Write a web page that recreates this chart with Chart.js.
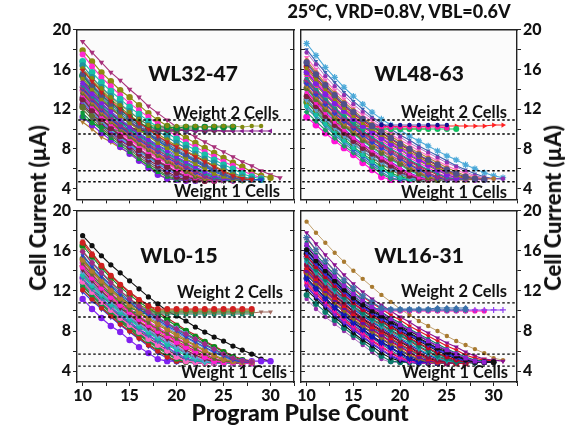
<!DOCTYPE html>
<html>
<head>
<meta charset="utf-8">
<script src="https://cdn.jsdelivr.net/npm/chart.js@4"></script>
<style>
html, body { margin: 0; padding: 0; background: #fff; }
#page { position: relative; width: 577px; height: 427px; overflow: hidden; font-family: Lato, sans-serif; font-weight: 900; color: #111; }
canvas { position: absolute; }
.txt { position: absolute; white-space: nowrap; transform: translate(-50%, -50%); line-height: 1; }
.weight { font-size: 16.5px; font-weight: 700; }
.panel { font-size: 21px; }
.axis { font-size: 23px; }
.vert { font-size: 22px; transform: translate(-50%, -50%) rotate(-90deg); }
</style>
</head>
<body>
<div id="page">
  <canvas id="wl3247" style="left:40px;top:18px" width="260" height="193"></canvas>
  <canvas id="wl4863" style="left:295px;top:18px" width="262" height="193"></canvas>
  <canvas id="wl015" style="left:40px;top:199px" width="260" height="210"></canvas>
  <canvas id="wl1631" style="left:295px;top:199px" width="262" height="210"></canvas>

  <div class="txt" style="left:399px;top:11px;font-size:18px">25°C, VRD=0.8V, VBL=0.6V</div>
  <div class="txt panel" style="left:193px;top:72px">WL32-47</div>
  <div class="txt panel" style="left:419px;top:72px">WL48-63</div>
  <div class="txt panel" style="left:179px;top:254px">WL0-15</div>
  <div class="txt panel" style="left:419px;top:254px">WL16-31</div>
  <div class="txt weight" style="left:226px;top:113px">Weight 2 Cells</div>
  <div class="txt weight" style="left:454px;top:112px">Weight 2 Cells</div>
  <div class="txt weight" style="left:230px;top:292px">Weight 2 Cells</div>
  <div class="txt weight" style="left:454px;top:291px">Weight 2 Cells</div>
  <div class="txt weight" style="left:227px;top:191px">Weight 1 Cells</div>
  <div class="txt weight" style="left:454px;top:192px">Weight 1 Cells</div>
  <div class="txt weight" style="left:234px;top:372px">Weight 1 Cells</div>
  <div class="txt weight" style="left:455px;top:372px">Weight 1 Cells</div>
  <div class="txt axis vert" style="left:38px;top:208px">Cell Current (µA)</div>
  <div class="txt axis vert" style="left:553px;top:208px">Cell Current (µA)</div>
  <div class="txt axis" style="left:300px;top:412px">Program Pulse Count</div>
</div>

<script>
// Pulse count of each point in a series
const pulseCounts = [10, 11, 12, 13, 14, 15, 16, 17, 18, 19, 20, 21, 22, 23, 24, 25, 26, 27, 28, 29, 30, 31];

const xTicks = [10, 12.5, 15, 17.5, 20, 22.5, 25, 27.5, 30, 32.5];
const xLabels = [10, 15, 20, 25, 30];
const yTicks = [4, 6, 8, 10, 12, 14, 16, 18, 20];
const yLabels = [4, 8, 12, 16, 20];

// Dotted limits of the two weight bands
const limitsTop = [10.9, 9.5, 5.8, 4.7];
const limitsBottom = [10.8, 9.4, 5.7, 4.5];

// Curves in the middle of each bundle, drawn first
const wl3247Middle = [
  [15.9, 14.8, 13.7, 12.8, 12, 11.3, 10.6, 10, 9.3, 8.7, 8.2, 7.7, 7.2, 6.7, 6.2, 5.7, 5.3, 5, 4.9],
  [15.5, 14.4, 13.4, 12.5, 11.7, 11, 10.3, 9.6, 9, 8.5, 7.9, 7.4, 6.9, 6.4, 5.9, 5.5, 5.1, 4.9, 4.9],
  [15.1, 14, 13, 12.2, 11.3, 10.6, 9.9, 9.3, 8.6, 8.1, 7.5, 7, 6.5, 6, 5.5, 5.2, 4.9, 4.9, 4.9],
  [14.6, 13.5, 12.6, 11.7, 10.9, 10.2, 9.5, 8.9, 8.3, 7.8, 7.2, 6.7, 6.2, 5.7, 5.3, 5, 4.9, 4.9],
  [14.4, 13.3, 12.3, 11.4, 10.7, 9.9, 9.3, 8.7, 8.1, 7.5, 7, 6.5, 6, 5.5, 5.1, 4.9, 4.8, 4.9],
  [14.2, 13.1, 12.1, 11.2, 10.4, 9.7, 9.1, 8.5, 7.9, 7.3, 6.8, 6.3, 5.8, 5.3, 5, 4.9, 4.8],
  [14, 12.9, 11.9, 11, 10.2, 9.5, 8.9, 8.3, 7.7, 7.1, 6.6, 6.1, 5.6, 5.2, 4.9, 4.9, 4.8],
  [13.8, 12.7, 11.7, 10.8, 10.1, 9.4, 8.7, 8.1, 7.5, 6.9, 6.4, 5.9, 5.4, 5, 4.9, 4.8],
  [13.6, 12.5, 11.5, 10.7, 9.9, 9.2, 8.5, 7.9, 7.3, 6.7, 6.2, 5.7, 5.2, 4.9, 4.9, 4.8],
  [13.4, 12.3, 11.3, 10.5, 9.7, 9, 8.3, 7.7, 7.1, 6.6, 6, 5.5, 5.1, 4.9, 4.8, 4.8],
  [13, 11.9, 11, 10.1, 9.3, 8.6, 7.9, 7.3, 6.7, 6.2, 5.6, 5.2, 4.9, 4.8, 4.8],
  [12.8, 11.8, 10.8, 9.9, 9.1, 8.4, 7.7, 7.1, 6.5, 6, 5.5, 5.1, 4.9, 4.8, 4.8]
];

const wl3247Currents = [
  [16.1, 15.1, 14.1, 13.2, 12.4, 11.7, 11, 10.4, 10.3, 10.3, 10.3, 10.3, 10.3, 10.2, 10.3, 10.3, 10.3, 10.2, 10.3, 10.3],
  [15.4, 14.3, 13.4, 12.6, 11.9, 11.2, 10.6, 10.2, 10.2, 10.2, 10.1, 10.2, 10.2, 10.2, 10.2, 10.2, 10.2],
  [14.8, 13.7, 12.8, 12, 11.3, 10.7, 10.1, 9.9, 9.9, 9.9, 9.9, 9.9, 9.8, 9.9, 9.9, 9.8, 9.8, 9.8, 9.8, 9.8, 9.8],
  [14.1, 13.1, 12.2, 11.5, 10.8, 10.2, 9.9, 9.8, 9.8, 9.8, 9.8, 9.9, 9.8, 9.8, 9.8, 9.8, 9.8],
  [13.2, 12.3, 11.5, 10.9, 10.3, 9.9, 9.8, 9.9, 9.8, 9.9, 9.9, 9.8, 9.9, 9.8, 9.9],
  [12.2, 11.4, 10.8, 10.3, 10, 9.9, 10, 10, 10, 10, 10, 10, 10],
  [11.2, 10.6, 10.2, 10, 9.8, 9.8, 9.8, 9.7, 9.8, 9.8, 9.8],
  [14.9, 13.9, 12.9, 12.1, 11.3, 10.6, 10, 9.4, 8.8, 8.2, 7.7, 7.2, 6.7, 6.2, 5.7, 5.3, 5, 4.9, 4.9, 4.9],
  [14.7, 13.6, 12.6, 11.8, 11, 10.3, 9.6, 9, 8.4, 7.9, 7.4, 6.9, 6.4, 5.9, 5.4, 5.1, 4.9, 4.9, 4.9],
  [14.5, 13.4, 12.5, 11.6, 10.8, 10.1, 9.4, 8.8, 8.2, 7.6, 7.1, 6.6, 6.1, 5.6, 5.2, 5, 4.9, 4.8],
  [14.3, 13.2, 12.2, 11.3, 10.5, 9.8, 9.2, 8.6, 8, 7.4, 6.9, 6.4, 5.9, 5.4, 5.1, 4.9, 4.9, 4.9, 4.9],
  [14.1, 13, 12, 11.1, 10.3, 9.6, 9, 8.4, 7.8, 7.3, 6.7, 6.2, 5.7, 5.3, 5, 4.9, 4.9, 4.8],
  [13.9, 12.8, 11.8, 10.9, 10.1, 9.4, 8.8, 8.2, 7.6, 7, 6.5, 6, 5.5, 5.1, 4.9, 4.9, 4.8],
  [13.7, 12.6, 11.6, 10.7, 10, 9.3, 8.6, 8, 7.4, 6.8, 6.3, 5.8, 5.3, 5, 4.9, 4.9, 4.9, 4.8],
  [13.5, 12.4, 11.4, 10.6, 9.8, 9.1, 8.4, 7.8, 7.2, 6.6, 6.1, 5.6, 5.2, 4.9, 4.9, 4.8, 4.8],
  [13.3, 12.2, 11.2, 10.4, 9.6, 8.9, 8.2, 7.6, 7, 6.5, 5.9, 5.4, 5.1, 4.9, 4.8, 4.9, 4.8],
  [13.1, 12, 11, 10.2, 9.4, 8.7, 8, 7.4, 6.8, 6.3, 5.7, 5.3, 5, 4.9, 4.8, 4.8],
  [12.9, 11.8, 10.9, 10, 9.2, 8.5, 7.8, 7.2, 6.6, 6.1, 5.6, 5.2, 4.9, 4.9, 4.8, 4.8, 4.8],
  [12.7, 11.7, 10.7, 9.8, 9, 8.3, 7.7, 7.1, 6.5, 5.9, 5.4, 5, 4.9, 4.8, 4.8, 4.8],
  [12.5, 11.5, 10.5, 9.7, 8.9, 8.2, 7.5, 6.9, 6.3, 5.7, 5.2, 4.9, 4.9, 4.8, 4.9],
  [12.3, 11.3, 10.3, 9.5, 8.7, 8, 7.4, 6.7, 6.1, 5.5, 5.1, 4.9, 4.8, 4.8, 4.8, 4.8],
  [12, 11, 10.1, 9.3, 8.6, 7.9, 7.2, 6.5, 5.9, 5.3, 5, 4.9, 4.8, 4.8],
  [11.6, 10.7, 9.9, 9.1, 8.4, 7.7, 7, 6.3, 5.7, 5.2, 4.9, 4.9, 4.8, 4.8],
  [11.2, 10.4, 9.6, 8.9, 8.2, 7.5, 6.8, 6.1, 5.4, 5, 4.9, 4.8, 4.8],
  [10.7, 10, 9.2, 8.7, 8.1, 7.6, 6.9, 6.3, 5.5, 5, 4.9, 4.9, 4.9, 4.8],
  [15.3, 14.2, 13.2, 12.3, 11.5, 10.8, 10.1, 9.5, 8.9, 8.3, 7.8, 7.3, 6.8, 6.3, 5.8, 5.4, 5.1, 4.9, 4.9, 4.9],
  [15.7, 14.5, 13.5, 12.7, 11.9, 11.1, 10.5, 9.8, 9.2, 8.6, 8.1, 7.5, 7, 6.5, 6, 5.6, 5.2, 5, 4.9, 4.9],
  [16, 14.9, 13.9, 13, 12.2, 11.4, 10.7, 10.1, 9.5, 8.9, 8.3, 7.8, 7.3, 6.8, 6.3, 5.8, 5.4, 5.1, 4.9, 4.9],
  [16.4, 15.2, 14.2, 13.3, 12.5, 11.8, 11, 10.4, 9.8, 9.2, 8.6, 8.1, 7.5, 7, 6.6, 6.1, 5.6, 5.2, 5],
  [16.8, 15.7, 14.7, 13.8, 13, 12.2, 11.5, 10.8, 10.2, 9.6, 9, 8.4, 7.9, 7.4, 6.9, 6.4, 6, 5.5, 5.2, 5],
  [17.5, 16.3, 15.2, 14.3, 13.4, 12.6, 11.9, 11.2, 10.5, 9.9, 9.3, 8.7, 8.2, 7.7, 7.2, 6.7, 6.3, 5.8, 5.4, 5.1],
  [17.9, 16.8, 15.7, 14.8, 13.9, 13.2, 12.4, 11.6, 10.9, 10.3, 9.7, 9.1, 8.6, 8.1, 7.6, 7.1, 6.6, 6.2, 5.7, 5.3, 5.1],
  [18.8, 17.7, 16.7, 15.7, 14.9, 14, 13.2, 12.3, 11.6, 10.9, 10.2, 9.7, 9.2, 8.7, 8.2, 7.7, 7.2, 6.7, 6.3, 5.8, 5.4, 5.1]
];

const wl4863Middle = [
  [16.7, 15.5, 14.4, 13.4, 12.5, 11.7, 11, 10.3, 9.7, 9.1, 8.5, 8, 7.4, 6.9, 6.4, 5.9, 5.5, 5.2, 5, 4.9],
  [16.1, 15, 14, 13, 12.1, 11.3, 10.6, 10, 9.4, 8.8, 8.2, 7.7, 7.2, 6.6, 6.1, 5.7, 5.3, 5, 4.9],
  [15.7, 14.6, 13.5, 12.6, 11.8, 11, 10.3, 9.7, 9.1, 8.5, 8, 7.4, 6.9, 6.4, 5.9, 5.4, 5.1, 5, 4.9],
  [15.1, 14, 13, 12.1, 11.3, 10.5, 9.8, 9.2, 8.6, 8, 7.5, 6.9, 6.4, 5.9, 5.5, 5.1, 5, 4.9],
  [14.9, 13.8, 12.8, 11.9, 11, 10.3, 9.6, 9, 8.4, 7.8, 7.2, 6.7, 6.2, 5.6, 5.2, 5, 4.9],
  [14.6, 13.5, 12.5, 11.6, 10.8, 10.1, 9.4, 8.7, 8.1, 7.6, 7, 6.4, 5.9, 5.4, 5.1, 4.9, 4.9],
  [14.3, 13.2, 12.2, 11.3, 10.5, 9.8, 9.1, 8.5, 7.9, 7.3, 6.8, 6.2, 5.7, 5.2, 5, 4.9],
  [14.1, 13, 12, 11.1, 10.3, 9.6, 8.9, 8.2, 7.6, 7, 6.5, 5.9, 5.5, 5.1, 4.9, 4.9],
  [13.7, 12.6, 11.6, 10.7, 9.9, 9.1, 8.4, 7.8, 7.1, 6.6, 6, 5.5, 5.1, 4.9, 4.9],
  [13.3, 12.3, 11.3, 10.4, 9.6, 8.8, 8.1, 7.5, 6.9, 6.3, 5.7, 5.3, 5, 4.9, 4.9],
  [12.9, 11.9, 11, 10.1, 9.3, 8.5, 7.8, 7.2, 6.6, 6, 5.5, 5.1, 4.9, 4.9],
  [12.3, 11.4, 10.5, 9.6, 8.8, 8.1, 7.4, 6.7, 6, 5.4, 5.1, 4.9, 4.9]
];

const wl4863Currents = [
  [16.5, 15.4, 14.3, 13.3, 12.4, 11.6, 10.9, 10.4, 10.4, 10.4, 10.4, 10.4, 10.4, 10.4, 10.4, 10.4],
  [15.7, 14.6, 13.6, 12.7, 11.9, 11.1, 10.5, 10.2, 10.2, 10.2, 10.2, 10.2, 10.2, 10.2, 10.2, 10.1],
  [14.8, 13.8, 12.9, 12, 11.2, 10.6, 10.1, 10, 10, 10, 10, 10, 10, 10, 10, 10, 10],
  [13.6, 12.8, 12, 11.3, 10.7, 10.3, 10.2, 10.3, 10.2, 10.3, 10.2, 10.3, 10.2, 10.3, 10.3, 10.3, 10.3, 10.3, 10.3, 10.3, 10.4, 10.4],
  [12.6, 11.9, 11.2, 10.7, 10.3, 10.1, 10, 10, 10, 10, 10, 10, 10, 10],
  [15.2, 14.1, 13.1, 12.2, 11.4, 10.7, 10, 9.4, 8.8, 8.2, 7.7, 7.1, 6.6, 6.1, 5.6, 5.2, 5, 5, 4.9],
  [15, 13.9, 12.9, 12, 11.2, 10.4, 9.7, 9.1, 8.5, 7.9, 7.4, 6.8, 6.3, 5.8, 5.4, 5.1, 5, 4.9],
  [14.7, 13.6, 12.6, 11.7, 10.9, 10.2, 9.5, 8.9, 8.3, 7.7, 7.1, 6.5, 6, 5.5, 5.2, 5, 4.9, 4.9, 4.9],
  [14.5, 13.4, 12.4, 11.5, 10.7, 10, 9.3, 8.6, 8, 7.4, 6.9, 6.3, 5.8, 5.3, 5, 4.9, 4.9, 4.9],
  [14.2, 13.1, 12.1, 11.2, 10.4, 9.7, 9, 8.4, 7.8, 7.2, 6.6, 6.1, 5.6, 5.2, 5, 4.9, 4.9, 4.9],
  [14, 12.9, 11.9, 11, 10.2, 9.5, 8.8, 8.1, 7.5, 6.9, 6.4, 5.8, 5.4, 5, 4.9, 4.9, 4.9, 4.9],
  [13.8, 12.7, 11.7, 10.8, 10, 9.2, 8.5, 7.9, 7.3, 6.7, 6.1, 5.6, 5.2, 5, 4.9, 4.9],
  [13.5, 12.4, 11.4, 10.5, 9.7, 9, 8.3, 7.6, 7, 6.4, 5.9, 5.4, 5.1, 4.9, 4.9, 4.9, 4.9],
  [13.2, 12.2, 11.2, 10.3, 9.5, 8.7, 8, 7.4, 6.8, 6.2, 5.6, 5.2, 5, 4.9, 4.9, 4.9],
  [13, 11.9, 10.9, 10, 9.2, 8.5, 7.8, 7.1, 6.5, 5.9, 5.4, 5.1, 4.9, 4.9, 4.9],
  [12.7, 11.7, 10.7, 9.8, 9, 8.2, 7.5, 6.9, 6.2, 5.6, 5.2, 5, 4.9, 4.9, 4.9],
  [12.4, 11.4, 10.5, 9.6, 8.8, 8, 7.3, 6.6, 5.9, 5.4, 5, 4.9, 4.9, 4.9],
  [12.1, 11.2, 10.3, 9.4, 8.6, 7.8, 7.1, 6.4, 5.7, 5.1, 4.9, 4.9, 4.9],
  [11.7, 10.8, 9.9, 9.1, 8.3, 7.6, 6.9, 6.2, 5.5, 5, 4.9, 4.9, 4.9],
  [11.2, 10.4, 9.6, 8.8, 8.1, 7.4, 6.6, 5.9, 5.2, 4.9, 4.9, 4.9, 4.9, 4.9],
  [15.5, 14.4, 13.4, 12.5, 11.7, 10.9, 10.2, 9.6, 9, 8.4, 7.9, 7.3, 6.8, 6.3, 5.8, 5.4, 5.1, 5, 4.9],
  [15.9, 14.8, 13.8, 12.8, 12, 11.2, 10.5, 9.9, 9.3, 8.7, 8.1, 7.6, 7, 6.5, 6, 5.6, 5.2, 5, 4.9, 4.9],
  [16.3, 15.2, 14.1, 13.2, 12.3, 11.5, 10.8, 10.2, 9.6, 9, 8.4, 7.9, 7.3, 6.8, 6.3, 5.8, 5.4, 5.1, 5, 4.9],
  [16.9, 15.7, 14.6, 13.6, 12.7, 11.9, 11.1, 10.5, 9.9, 9.3, 8.7, 8.1, 7.6, 7.1, 6.6, 6.1, 5.7, 5.3, 5.1, 5, 5],
  [17.2, 16, 14.9, 13.9, 13, 12.1, 11.4, 10.8, 10.1, 9.5, 8.9, 8.4, 7.8, 7.3, 6.8, 6.3, 5.9, 5.5, 5.2, 5, 5],
  [17.7, 16.5, 15.3, 14.3, 13.4, 12.5, 11.7, 11, 10.4, 9.8, 9.2, 8.6, 8.1, 7.6, 7.1, 6.6, 6.2, 5.7, 5.3, 5.1, 5, 5],
  [18, 16.8, 15.7, 14.7, 13.7, 12.8, 12, 11.2, 10.6, 10, 9.4, 8.9, 8.3, 7.8, 7.3, 6.8, 6.3, 5.9, 5.5, 5.2, 5, 5],
  [18.6, 17.4, 16.2, 15.2, 14.2, 13.3, 12.5, 11.7, 11, 10.4, 9.9, 9.3, 8.8, 8.3, 7.8, 7.3, 6.9, 6.4, 6, 5.6, 5.3, 5.1]
];

const wl015Middle = [
  [15.9, 14.8, 13.8, 12.8, 12, 11.2, 10.5, 9.9, 9.3, 8.8, 8.2, 7.7, 7.2, 6.7, 6.2, 5.7, 5.3, 5, 4.9],
  [15.5, 14.4, 13.4, 12.5, 11.6, 10.9, 10.2, 9.6, 9.1, 8.5, 8, 7.4, 6.9, 6.4, 5.9, 5.5, 5.1, 4.9, 4.9],
  [15.1, 14, 13, 12.1, 11.3, 10.6, 9.9, 9.3, 8.8, 8.2, 7.7, 7.1, 6.6, 6.1, 5.6, 5.2, 5, 4.9, 4.9],
  [14.7, 13.6, 12.6, 11.7, 10.9, 10.1, 9.4, 8.8, 8.2, 7.7, 7.2, 6.7, 6.2, 5.7, 5.2, 5, 4.9, 4.9, 4.9],
  [14.4, 13.3, 12.3, 11.4, 10.6, 9.9, 9.2, 8.6, 8, 7.5, 6.9, 6.4, 5.9, 5.4, 5, 4.9, 4.9, 4.8, 4.8],
  [14.1, 13, 12, 11.1, 10.3, 9.6, 8.9, 8.3, 7.7, 7.2, 6.7, 6.1, 5.6, 5.2, 4.9, 4.9, 4.8, 4.8, 4.8],
  [13.9, 12.8, 11.8, 10.9, 10.1, 9.4, 8.7, 8.1, 7.5, 7, 6.4, 5.9, 5.4, 5, 4.9, 4.9, 4.8, 4.8, 4.9],
  [13.6, 12.5, 11.6, 10.7, 9.9, 9.2, 8.5, 7.9, 7.3, 6.7, 6.2, 5.7, 5.2, 4.9, 4.9, 4.8, 4.8, 4.8, 4.8],
  [13.2, 12.1, 11.2, 10.3, 9.5, 8.8, 8.1, 7.5, 6.9, 6.3, 5.7, 5.2, 5, 4.9, 4.8, 4.8, 4.8, 4.8, 4.8],
  [12.9, 11.9, 10.9, 10.1, 9.3, 8.6, 7.9, 7.2, 6.6, 6, 5.4, 5, 4.9, 4.8, 4.8, 4.8, 4.8, 4.8],
  [12.6, 11.6, 10.7, 9.9, 9.1, 8.4, 7.7, 7, 6.4, 5.8, 5.2, 4.9, 4.9, 4.9, 4.8, 4.8, 4.8, 4.8],
  [12.1, 11.2, 10.3, 9.5, 8.7, 8, 7.3, 6.6, 6, 5.4, 5, 4.9, 4.9, 4.8, 4.8, 4.8, 4.8]
];

const wl015Currents = [
  [16.8, 15.6, 14.5, 13.5, 12.6, 11.8, 11.1, 10.5, 10.2, 10.2, 10.2, 10.2, 10.2, 10.2, 10.2, 10.2, 10.2, 10.2, 10.2],
  [16, 14.8, 13.8, 12.9, 12, 11.2, 10.6, 10.2, 10.1, 10.1, 10.1, 10.1, 10.1, 10.1, 10.1, 10.1, 10.1, 10.1, 10.1],
  [15.2, 14.1, 13.1, 12.2, 11.4, 10.7, 10.2, 10, 10, 10, 10, 10, 10, 10, 10, 10, 10, 10, 10],
  [14.4, 13.4, 12.4, 11.6, 10.9, 10.3, 10, 9.9, 9.9, 9.9, 9.9, 9.9, 9.9, 9.9, 9.9, 9.9, 9.9, 9.9, 9.9],
  [13.6, 12.7, 11.9, 11.2, 10.5, 10, 9.9, 9.8, 9.8, 9.8, 9.8, 9.8, 9.8, 9.8, 9.8, 9.8, 9.8, 9.8, 9.8, 9.9, 9.9],
  [12.8, 12.1, 11.4, 10.8, 10.2, 9.9, 9.8, 9.7, 9.7, 9.7, 9.7, 9.7, 9.7, 9.7, 9.7, 9.7, 9.7, 9.7, 9.7],
  [15.6, 14.5, 13.5, 12.6, 11.8, 11, 10.4, 9.8, 9.2, 8.7, 8.1, 7.6, 7.1, 6.6, 6.1, 5.6, 5.2, 5, 4.9],
  [15.3, 14.2, 13.2, 12.3, 11.5, 10.7, 10.1, 9.5, 8.9, 8.4, 7.8, 7.3, 6.8, 6.3, 5.8, 5.4, 5, 4.9, 4.9],
  [15, 13.9, 12.9, 12, 11.2, 10.5, 9.8, 9.2, 8.6, 8.1, 7.5, 7, 6.5, 6, 5.5, 5.1, 4.9, 4.9, 4.9],
  [14.8, 13.7, 12.7, 11.8, 11, 10.2, 9.5, 8.9, 8.4, 7.8, 7.3, 6.8, 6.3, 5.8, 5.3, 5, 4.9, 4.9, 4.9],
  [14.5, 13.4, 12.4, 11.5, 10.7, 10, 9.3, 8.7, 8.1, 7.6, 7, 6.5, 6, 5.5, 5.1, 4.9, 4.9, 4.9],
  [14.3, 13.2, 12.2, 11.3, 10.5, 9.7, 9, 8.4, 7.9, 7.3, 6.8, 6.3, 5.8, 5.3, 5, 4.9, 4.8, 4.9, 4.9],
  [14, 12.9, 11.9, 11, 10.2, 9.5, 8.8, 8.2, 7.6, 7.1, 6.5, 6, 5.5, 5.1, 4.9, 4.9, 4.8, 4.9, 4.9],
  [13.8, 12.7, 11.7, 10.8, 10, 9.3, 8.6, 8, 7.4, 6.8, 6.3, 5.8, 5.3, 5, 4.9, 4.8, 4.8, 4.8, 4.9],
  [13.5, 12.4, 11.5, 10.6, 9.8, 9.1, 8.4, 7.8, 7.2, 6.6, 6.1, 5.5, 5.1, 4.9, 4.9, 4.8, 4.8, 4.8, 4.8],
  [13.3, 12.2, 11.3, 10.4, 9.6, 8.9, 8.2, 7.6, 7, 6.4, 5.8, 5.3, 5, 4.9, 4.8, 4.8, 4.8, 4.8, 4.8],
  [13, 12, 11, 10.2, 9.4, 8.7, 8, 7.3, 6.7, 6.1, 5.6, 5.1, 4.9, 4.9, 4.8, 4.8, 4.8, 4.8, 4.8],
  [12.8, 11.8, 10.8, 10, 9.2, 8.5, 7.8, 7.1, 6.5, 5.9, 5.3, 5, 4.9, 4.8, 4.8, 4.8, 4.8, 4.8, 4.8],
  [12.5, 11.5, 10.6, 9.8, 9, 8.3, 7.6, 6.9, 6.3, 5.7, 5.2, 4.9, 4.9, 4.8, 4.8, 4.8, 4.8, 4.8, 4.9],
  [12.2, 11.3, 10.4, 9.6, 8.9, 8.2, 7.4, 6.7, 6.1, 5.5, 5, 4.9, 4.9, 4.9, 4.9, 4.9, 4.9, 4.9, 4.9],
  [11.9, 11, 10.2, 9.4, 8.6, 7.9, 7.2, 6.5, 5.8, 5.3, 4.9, 4.9, 4.8, 4.8, 4.8, 4.8, 4.8, 4.8],
  [11.2, 10.2, 9.3, 8.5, 7.9, 7.1, 6.4, 5.8, 5.2, 5, 5, 5, 5, 5, 5, 5, 5, 5, 5, 5, 5],
  [12.4, 11.5, 10.6, 9.8, 9, 8.2, 7.4, 6.6, 6, 5.5, 5, 5, 5, 5, 5, 5, 5, 5, 5],
  [16, 14.9, 13.9, 12.9, 12, 11.2, 10.6, 10, 9.4, 8.8, 8.3, 7.8, 7.2, 6.7, 6.2, 5.7, 5.3, 5, 4.9],
  [16.5, 15.4, 14.3, 13.3, 12.4, 11.6, 10.9, 10.3, 9.7, 9.1, 8.5, 8, 7.4, 6.9, 6.4, 5.9, 5.4, 5.1, 4.9],
  [17, 15.8, 14.6, 13.6, 12.7, 11.9, 11.2, 10.6, 9.9, 9.3, 8.7, 8.1, 7.6, 7, 6.5, 6, 5.5, 5.2, 5],
  [17.5, 16.5, 15.5, 14.6, 13.8, 13, 12.2, 11.4, 10.7, 10, 9.5, 9, 8.4, 7.9, 7.4, 7, 6.5, 6.1, 5.7, 5.2, 5]
];

const wl1631Middle = [
  [16.6, 15.4, 14.4, 13.4, 12.5, 11.7, 11, 10.4, 9.8, 9.2, 8.6, 8.1, 7.6, 7, 6.5, 6.1, 5.7, 5.3, 5, 4.9],
  [16.1, 15, 14, 13, 12.1, 11.3, 10.6, 10, 9.5, 8.9, 8.4, 7.8, 7.3, 6.8, 6.3, 5.9, 5.5, 5.1, 4.9, 4.9],
  [15.8, 14.7, 13.7, 12.8, 11.9, 11.1, 10.4, 9.8, 9.2, 8.7, 8.1, 7.6, 7.1, 6.6, 6.1, 5.7, 5.3, 5, 4.9, 4.9],
  [15.5, 14.4, 13.4, 12.5, 11.6, 10.8, 10.1, 9.5, 9, 8.4, 7.9, 7.3, 6.8, 6.3, 5.8, 5.4, 5.1, 4.9, 4.9],
  [15.2, 14.1, 13.1, 12.2, 11.3, 10.5, 9.8, 9.2, 8.7, 8.1, 7.6, 7.1, 6.5, 6, 5.5, 5.2, 4.9, 4.9, 4.8],
  [14.9, 13.8, 12.8, 11.9, 11.1, 10.3, 9.6, 9, 8.4, 7.9, 7.3, 6.8, 6.2, 5.7, 5.3, 5, 4.9, 4.9, 4.8],
  [14.6, 13.5, 12.5, 11.6, 10.8, 10, 9.3, 8.7, 8.1, 7.6, 7, 6.5, 5.9, 5.4, 5.1, 4.9, 4.9, 4.8],
  [14.3, 13.2, 12.2, 11.3, 10.5, 9.7, 9.1, 8.4, 7.9, 7.3, 6.7, 6.2, 5.7, 5.2, 4.9, 4.9, 4.8, 4.8],
  [14, 13, 12, 11.1, 10.3, 9.5, 8.8, 8.2, 7.6, 7, 6.5, 5.9, 5.4, 5, 4.9, 4.8, 4.8, 4.8],
  [13.7, 12.7, 11.7, 10.8, 10, 9.2, 8.5, 7.9, 7.3, 6.7, 6.2, 5.6, 5.2, 4.9, 4.8, 4.8, 4.8],
  [13.2, 12.2, 11.2, 10.3, 9.5, 8.8, 8.1, 7.4, 6.8, 6.3, 5.7, 5.2, 4.9, 4.9, 4.8, 4.8],
  [12.9, 11.9, 10.9, 10, 9.2, 8.5, 7.8, 7.1, 6.5, 5.9, 5.4, 5, 4.9, 4.8, 4.8, 4.8],
  [12.5, 11.5, 10.6, 9.7, 8.9, 8.2, 7.5, 6.8, 6.2, 5.6, 5.2, 4.9, 4.8, 4.8, 4.8]
];

const wl1631Currents = [
  [17.3, 16.1, 15, 14, 13.1, 12.3, 11.5, 10.9, 10.3, 10.1, 10.1, 10.1, 10.1, 10.1, 10.1, 10.1, 10.1, 10.1],
  [16.2, 15.1, 14, 13.1, 12.3, 11.5, 10.8, 10.3, 10.2, 10.2, 10.2, 10.2, 10.2, 10.2, 10.3, 10.3, 10.3, 10.3],
  [15.4, 14.4, 13.4, 12.5, 11.7, 11, 10.5, 10.2, 10.1, 10.1, 10.1, 10.1, 10.1, 10.1, 10.1, 10.1, 10.1, 10.1, 10.1, 10.1, 10.1, 10.1],
  [14.6, 13.6, 12.7, 11.9, 11.2, 10.6, 10.2, 10, 10, 10, 10, 10, 10, 10, 10, 10, 10, 10, 10, 10],
  [15.7, 14.6, 13.6, 12.7, 11.8, 11, 10.3, 9.7, 9.1, 8.6, 8, 7.5, 7, 6.5, 6, 5.6, 5.2, 5, 4.9, 4.9, 4.9],
  [15.4, 14.3, 13.3, 12.4, 11.5, 10.7, 10, 9.4, 8.9, 8.3, 7.8, 7.2, 6.7, 6.2, 5.7, 5.3, 5, 4.9, 4.9, 4.9],
  [15.1, 14, 13, 12.1, 11.2, 10.4, 9.7, 9.1, 8.6, 8, 7.5, 7, 6.4, 5.9, 5.4, 5.1, 4.9, 4.9, 4.8],
  [14.8, 13.7, 12.7, 11.8, 11, 10.2, 9.5, 8.9, 8.3, 7.7, 7.2, 6.6, 6.1, 5.6, 5.2, 5, 4.9, 4.9, 4.9],
  [14.5, 13.4, 12.4, 11.5, 10.7, 9.9, 9.2, 8.6, 8, 7.5, 6.9, 6.4, 5.8, 5.3, 5, 4.9, 4.8, 4.8],
  [14.2, 13.1, 12.1, 11.2, 10.4, 9.6, 9, 8.3, 7.8, 7.2, 6.6, 6.1, 5.6, 5.1, 4.9, 4.9, 4.8, 4.8],
  [13.9, 12.9, 11.9, 11, 10.2, 9.4, 8.7, 8.1, 7.5, 6.9, 6.4, 5.8, 5.3, 5, 4.9, 4.8, 4.8, 4.8],
  [13.6, 12.6, 11.6, 10.7, 9.9, 9.1, 8.4, 7.8, 7.2, 6.6, 6.1, 5.5, 5.1, 4.9, 4.8, 4.8, 4.8],
  [13.3, 12.3, 11.3, 10.4, 9.6, 8.9, 8.2, 7.5, 6.9, 6.4, 5.8, 5.3, 5, 4.9, 4.8, 4.8, 4.8],
  [13, 12, 11, 10.1, 9.3, 8.6, 7.9, 7.3, 6.7, 6.1, 5.5, 5.1, 4.9, 4.8, 4.8, 4.8],
  [12.7, 11.7, 10.8, 9.9, 9.1, 8.3, 7.7, 7, 6.4, 5.8, 5.3, 5, 4.9, 4.8, 4.8, 4.8, 4.8],
  [12.4, 11.4, 10.5, 9.6, 8.8, 8.1, 7.4, 6.7, 6.1, 5.5, 5.1, 4.9, 4.8, 4.8, 4.8],
  [12.1, 11.2, 10.3, 9.4, 8.6, 7.8, 7.1, 6.5, 5.8, 5.3, 5, 4.9, 4.8, 4.8, 4.8],
  [11.6, 10.7, 9.9, 9.1, 8.3, 7.6, 6.9, 6.2, 5.5, 5, 4.9, 4.9, 4.8, 4.8, 4.8],
  [11.2, 10.2, 9.4, 8.7, 8, 7.3, 6.6, 5.9, 5.2, 4.9, 4.9, 4.9, 4.8, 4.8, 4.8, 4.8],
  [16, 14.9, 13.9, 12.9, 12, 11.2, 10.5, 9.9, 9.4, 8.8, 8.3, 7.7, 7.2, 6.7, 6.2, 5.8, 5.4, 5.1, 4.9, 4.9, 4.9],
  [16.4, 15.3, 14.2, 13.3, 12.3, 11.5, 10.8, 10.2, 9.6, 9.1, 8.5, 8, 7.5, 7, 6.5, 6, 5.6, 5.2, 5, 4.9, 4.9],
  [16.8, 15.6, 14.6, 13.6, 12.7, 11.9, 11.1, 10.5, 9.9, 9.3, 8.8, 8.2, 7.7, 7.2, 6.7, 6.2, 5.8, 5.4, 5.1, 5, 4.9],
  [17.2, 16.1, 15, 14, 13.1, 12.2, 11.4, 10.8, 10.2, 9.6, 9.1, 8.5, 8, 7.5, 7, 6.5, 6.1, 5.6, 5.3, 5.1, 5],
  [17.8, 16.7, 15.6, 14.6, 13.6, 12.7, 11.9, 11.2, 10.6, 10, 9.4, 8.9, 8.3, 7.8, 7.3, 6.8, 6.4, 5.9, 5.5, 5.2, 5.1, 5],
  [18.9, 17.8, 16.8, 15.8, 14.9, 14, 13.2, 12.4, 11.6, 10.9, 10.2, 9.6, 9, 8.5, 8, 7.5, 7, 6.6, 6.2, 5.8, 5.3, 5.1]
];

const palette = ['#a02a86', '#8c8a10', '#0a9a3a', '#18c0a8', '#ff1fd0', '#2a3fd0', '#8020e0', '#c82020', '#3a7fb0', '#7a2040', '#b07a30', '#109090', '#50508a', '#ff66c4', '#5a9fd8', '#607030'];
const darkPalette = ['#1018c0', '#c00020', '#6a10a0', '#101010', '#8c1040', '#ff10a0', '#0a7a6a', '#807020', '#3030e0', '#e01020', '#9020d0', '#18a0a8'];
const markers = ['triangle', 'circle', 'rectRot', 'rect', 'star', 'circle', 'triangle'];
const markerSizes = [3.2, 2.6, 3, 2.4, 3];

// Outer and flat curves with their own look: series index -> [colour, marker, size]
const wl3247Accents = {
  32: ['#a8307a', 'triangle', 3.2], 31: ['#8c8a10', 'circle', 3.2], 30: ['#ff2ad0', 'circle', 3],
  29: ['#18c0a8', 'circle', 3.4], 28: ['#2090a0', 'circle', 3.2], 24: ['#b07a30', 'triangle', 3],
  23: ['#8020e0', 'circle', 3.2], 0: ['#808a10', 'circle', 2.2], 1: ['#0a8a3a', 'circle', 3.4], 2: ['#8a2090', 'triangleLeft', 3]
};
const wl4863Accents = {
  27: ['#4aa8d8', 'star', 3.2], 26: ['#3a60b0', 'triangle', 2.6], 25: ['#9030b0', 'circle', 2.2], 19: ['#ff10d8', 'circle', 3.4],
  18: ['#18a060', 'rectRot', 3], 3: ['#ff2020', 'triangleRight', 3], 0: ['#101090', 'circle', 2.2], 1: ['#ff10a0', 'circle', 2.6], 2: ['#10c060', 'circle', 3]
};
const wl015Accents = {
  26: ['#101010', 'circle', 2.6], 25: ['#b02020', 'triangle', 2.6], 24: ['#0a8a1a', 'circle', 3.2], 21: ['#8020f0', 'circle', 3.2],
  22: ['#101010', 'circle', 2.4], 4: ['#a06a60', 'triangle', 2.8], 0: ['#d02020', 'circle', 3], 1: ['#8c8a10', 'rect', 3], 5: ['#108060', 'rect', 3.2]
};
const wl1631Accents = {
  24: ['#a87a30', 'circle', 2.2], 18: ['#9030a8', 'circle', 2.2], 23: ['#8a1090', 'triangle', 3], 2: ['#9040f0', 'cross', 3],
  3: ['#ff10b0', 'circle', 2.6], 0: ['#3a70a8', 'star', 3.4], 1: ['#3a70a8', 'rectRot', 3]
};

const rotations = { triangle: 180, triangleLeft: -90, triangleRight: 90 };

const plotBackground = {
  id: 'plotBackground',
  beforeDraw(chart) {
    const a = chart.chartArea;
    chart.ctx.fillStyle = '#fbfbfb';
    chart.ctx.fillRect(a.left, a.top, a.width, a.height);
  }
};

function fixedTicks(values) {
  return function(axis) {
    axis.ticks = values.map(function(v) { return { value: v }; });
  };
}

function curveDataset(values, colour, marker, size, thin) {
  const stroked = marker === 'star' || marker === 'cross';
  return {
    data: values.map(function(v, k) { return { x: pulseCounts[k], y: v }; }),
    borderColor: colour,
    backgroundColor: colour,
    borderWidth: thin ? 0.7 : 1.1,
    pointStyle: marker.indexOf('triangle') === 0 ? 'triangle' : marker,
    pointRotation: rotations[marker] || 0,
    pointRadius: size,
    pointBorderColor: colour,
    pointBorderWidth: stroked ? 1.2 : 0,
    tension: 0
  };
}

function limitDataset(level) {
  return {
    data: [{ x: xTicks[0] - 1, y: level }, { x: 33, y: level }],
    borderColor: '#000',
    borderWidth: 1.4,
    borderDash: [2.5, 2.5],
    pointRadius: 0,
    order: -1
  };
}

function drawPanel(id, middle, currents, accents, limits, opts) {
  const tickFont = { family: 'Lato', size: 16, weight: '900' };
  const colours = opts.dark ? darkPalette : palette;

  const under = middle.map(function(c, i) {
    const k = i * 5 + opts.shift;
    return curveDataset(c, colours[(k + 7) % colours.length], markers[k % markers.length], markerSizes[i % markerSizes.length], false);
  });
  const over = currents.map(function(c, i) {
    const accent = accents[i];
    if (accent) return curveDataset(c, accent[0], accent[1], accent[2], accent[2] < 2.5);
    const k = i * 3 + opts.shift;
    return curveDataset(c, colours[k % colours.length], markers[k % markers.length], markerSizes[i % markerSizes.length], false);
  });
  const datasets = under.concat(over, limits.map(limitDataset));

  const yAxis = function(position, labelled, width) {
    return {
      position: position,
      min: 2.92,
      max: 20,
      afterBuildTicks: fixedTicks(yTicks),
      afterFit: function(axis) { axis.width = width; },
      border: { color: '#222', width: 1.4 },
      grid: { drawOnChartArea: false, tickLength: labelled ? 4 : -4, color: '#222', lineWidth: 1 },
      ticks: {
        display: labelled,
        color: '#111',
        font: tickFont,
        padding: 2,
        autoSkip: false,
        maxRotation: 0,
        callback: function(v) { return yLabels.includes(v) ? String(v) : ''; }
      }
    };
  };

  return new Chart(document.getElementById(id), {
    type: 'line',
    data: { datasets: datasets },
    plugins: [plotBackground],
    options: {
      responsive: false,
      animation: false,
      layout: { padding: { top: opts.top, bottom: 0, left: 0, right: 0 } },
      plugins: { legend: { display: false }, tooltip: { enabled: false } },
      scales: {
        x: {
          type: 'linear',
          min: 9.4,
          max: 32.5,
          afterBuildTicks: fixedTicks(xTicks),
          afterFit: function(axis) { axis.height = opts.bottom; },
          border: { color: '#222', width: 1.4 },
          grid: { drawOnChartArea: false, tickLength: 4, color: '#222', lineWidth: 1 },
          ticks: {
            display: opts.xLabels,
            color: '#111',
            font: tickFont,
            padding: 0,
            autoSkip: false,
            maxRotation: 0,
            callback: function(v) { return xLabels.includes(v) ? String(v) : ''; }
          }
        },
        xTop: {
          type: 'linear',
          position: 'top',
          min: 9.4,
          max: 32.5,
          afterFit: function(axis) { axis.height = 0; },
          border: { color: '#222', width: 1.4 },
          grid: { display: false },
          ticks: { display: false }
        },
        y: yAxis('left', opts.side === 'left', opts.leftWidth),
        yRight: yAxis('right', opts.side === 'right', opts.rightWidth)
      }
    }
  });
}

document.addEventListener('DOMContentLoaded', function() {
  if (typeof Chart === 'undefined') {
    console.error('Chart.js not loaded!');
    return;
  }
  drawPanel('wl3247', wl3247Middle, wl3247Currents, wl3247Accents, limitsTop, { side: 'left', leftWidth: 37, rightWidth: 6, top: 10, bottom: 10, xLabels: false, shift: 0 });
  drawPanel('wl4863', wl4863Middle, wl4863Currents, wl4863Accents, limitsTop, { side: 'right', leftWidth: 6, rightWidth: 40, top: 10, bottom: 10, xLabels: false, shift: 5 });
  drawPanel('wl015', wl015Middle, wl015Currents, wl015Accents, limitsBottom, { side: 'left', leftWidth: 37, rightWidth: 6, top: 10, bottom: 27, xLabels: true, shift: 9 });
  drawPanel('wl1631', wl1631Middle, wl1631Currents, wl1631Accents, limitsBottom, { side: 'right', leftWidth: 6, rightWidth: 40, top: 10, bottom: 27, xLabels: true, shift: 3, dark: true });
});
</script>
</body>
</html>
